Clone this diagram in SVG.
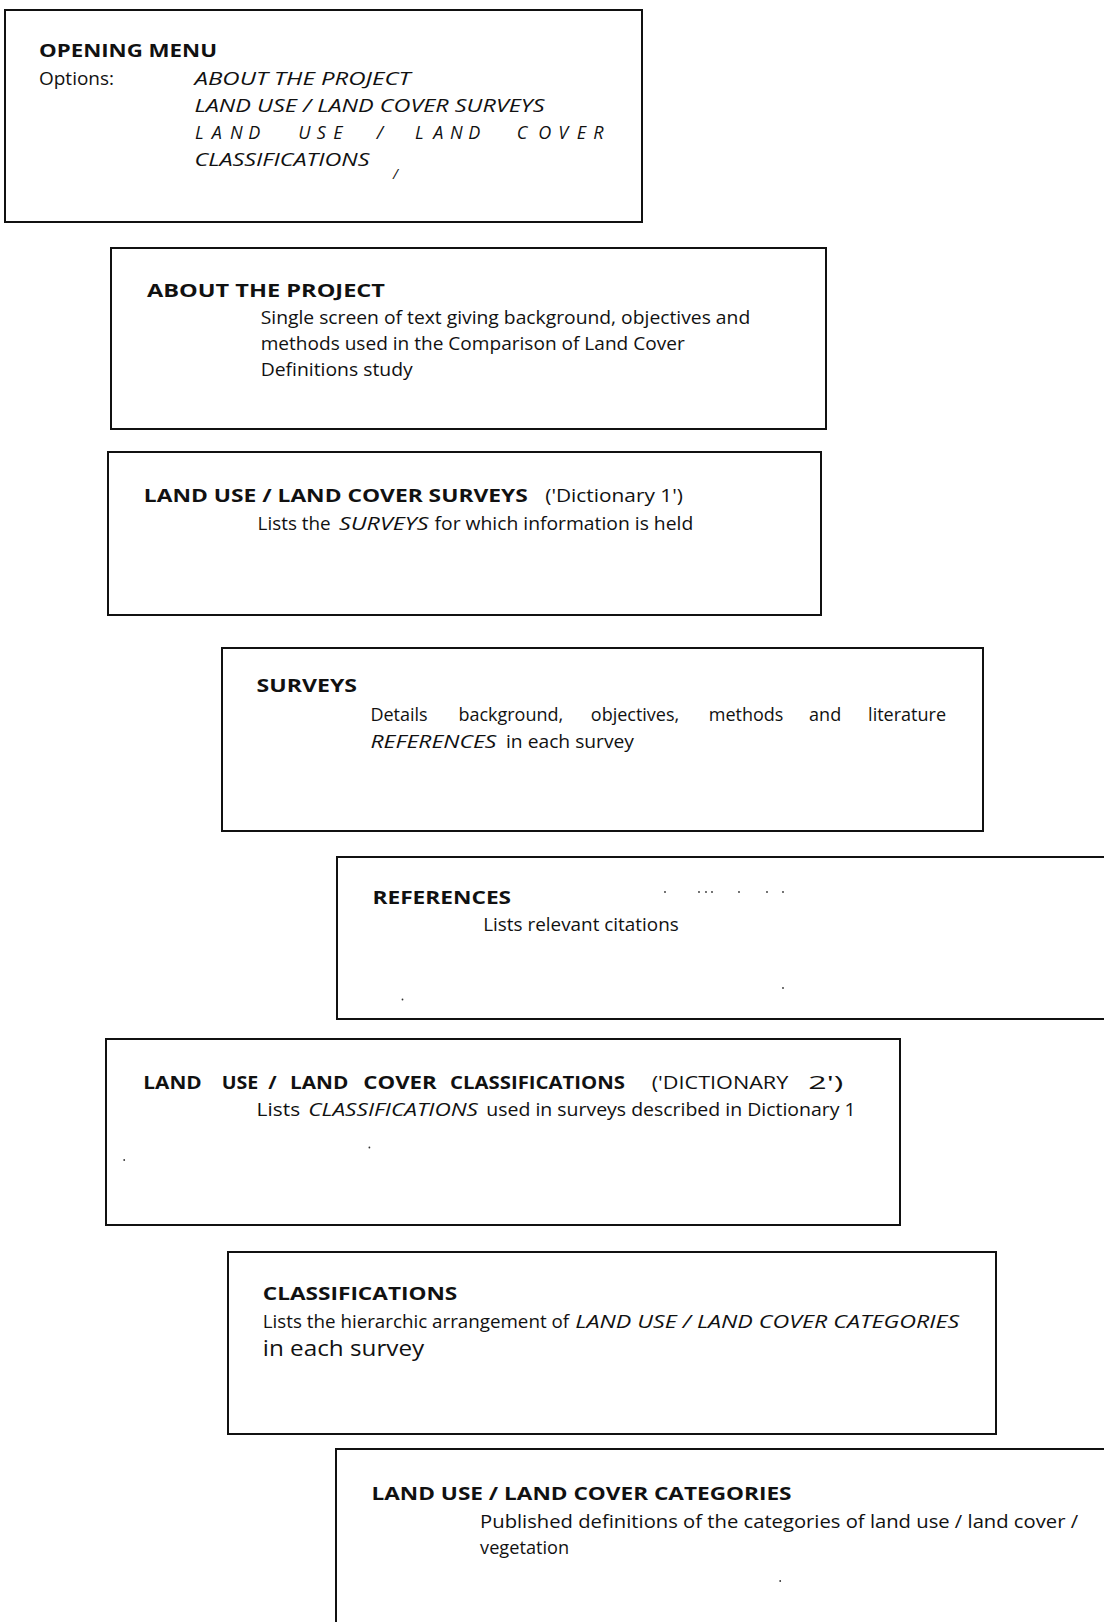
<svg xmlns="http://www.w3.org/2000/svg" width="1104" height="1622" viewBox="0 0 1104 1622">
<style>
text{font-family:"Open Sans","Liberation Sans",sans-serif;font-size:18px;fill:#111}
.t{font-weight:700}
.i{font-style:italic}
.box{fill:none;stroke:#111;stroke-width:2}
.dot{fill:#333}
</style>
<rect width="1104" height="1622" fill="#fff"/>
<g id="connectors"></g>
<g id="opening-menu">
<rect class="box" x="5" y="10" width="637" height="212"/>
<text class="t" x="39" y="57" textLength="178" lengthAdjust="spacingAndGlyphs">OPENING MENU</text>
<text x="39" y="85" textLength="75" lengthAdjust="spacingAndGlyphs">Options:</text>
<text class="i" x="194.5" y="85" textLength="216" lengthAdjust="spacingAndGlyphs">ABOUT THE PROJECT</text>
<text class="i" x="194.5" y="111.7" textLength="350" lengthAdjust="spacingAndGlyphs">LAND USE / LAND COVER SURVEYS</text>
<text class="i" x="195 211.7 230 248.3 270 298.3 316.7 333.3 350 376.7 395 415 433.3 450 468.3 490 516.7 538.3 558.3 576.7 593.3" y="138.6">LAND USE / LAND COVER</text>
<text class="i" x="194.5" y="165.5" textLength="175" lengthAdjust="spacingAndGlyphs">CLASSIFICATIONS</text>
<text class="i" x="393" y="179" style="font-size:14px">/</text>
</g>
<g id="about-the-project">
<rect class="box" x="111" y="248" width="715" height="181"/>
<text class="t" x="147" y="297" textLength="238" lengthAdjust="spacingAndGlyphs">ABOUT THE PROJECT</text>
<text x="260.7" y="323.9" textLength="489.5" lengthAdjust="spacingAndGlyphs">Single screen of text giving background, objectives and</text>
<text x="260.7" y="349.7" textLength="424" lengthAdjust="spacingAndGlyphs">methods used in the Comparison of Land Cover</text>
<text x="260.7" y="375.6" textLength="152" lengthAdjust="spacingAndGlyphs">Definitions study</text>
</g>
<g id="surveys-dictionary">
<rect class="box" x="108" y="452" width="713" height="163"/>
<text class="t" x="143.8" y="501.8" textLength="384" lengthAdjust="spacingAndGlyphs">LAND USE / LAND COVER SURVEYS</text>
<text x="545.3" y="501.8" textLength="137.6" lengthAdjust="spacingAndGlyphs">('Dictionary 1')</text>
<text x="257.6" y="529.8" textLength="73" lengthAdjust="spacingAndGlyphs">Lists the</text>
<text class="i" x="339" y="529.8" textLength="89.4" lengthAdjust="spacingAndGlyphs">SURVEYS</text>
<text x="434.6" y="529.8" textLength="258.6" lengthAdjust="spacingAndGlyphs">for which information is held</text>
</g>
<g id="surveys">
<rect class="box" x="222" y="648" width="761" height="183"/>
<text class="t" x="256.6" y="692.2" textLength="100.4" lengthAdjust="spacingAndGlyphs">SURVEYS</text>
<text y="721.2"><tspan x="370.4">Details</tspan> <tspan x="458.4">background,</tspan> <tspan x="590.8">objectives,</tspan> <tspan x="708.8">methods</tspan> <tspan x="809.1">and</tspan> <tspan x="868.1">literature</tspan></text>
<text class="i" x="370.4" y="748.1" textLength="126" lengthAdjust="spacingAndGlyphs">REFERENCES</text>
<text x="506" y="748.1" textLength="128" lengthAdjust="spacingAndGlyphs">in each survey</text>
</g>
<g id="references">
<rect class="box" x="337" y="857" width="780" height="162"/>
<text class="t" x="372.5" y="904.3" textLength="138.6" lengthAdjust="spacingAndGlyphs">REFERENCES</text>
<text x="483.2" y="931.2" textLength="195.6" lengthAdjust="spacingAndGlyphs">Lists relevant citations</text>
<circle class="dot" cx="665" cy="892" r="0.9"/>
<circle class="dot" cx="699" cy="892" r="0.9"/>
<circle class="dot" cx="706" cy="892" r="0.9"/>
<circle class="dot" cx="712" cy="892" r="0.9"/>
<circle class="dot" cx="739" cy="892" r="0.9"/>
<circle class="dot" cx="767" cy="892" r="0.9"/>
<circle class="dot" cx="783" cy="892" r="0.9"/>
<circle class="dot" cx="402.5" cy="999.5" r="0.9"/>
<circle class="dot" cx="783" cy="988" r="0.9"/>
</g>
<g id="classifications-dictionary">
<rect class="box" x="106" y="1039" width="794" height="186"/>
<text class="t" x="143.3" y="1088.5" textLength="58.4" lengthAdjust="spacingAndGlyphs">LAND</text>
<text class="t" x="221.7" y="1088.5" textLength="36.6" lengthAdjust="spacingAndGlyphs">USE</text>
<text class="t" x="268.3" y="1088.5" textLength="8.4" lengthAdjust="spacingAndGlyphs">/</text>
<text class="t" x="290" y="1088.5" textLength="58.3" lengthAdjust="spacingAndGlyphs">LAND</text>
<text class="t" x="363.3" y="1088.5" textLength="73.4" lengthAdjust="spacingAndGlyphs">COVER</text>
<text class="t" x="450" y="1088.5" textLength="175" lengthAdjust="spacingAndGlyphs">CLASSIFICATIONS</text>
<text x="651.7" y="1088.5" textLength="136.6" lengthAdjust="spacingAndGlyphs">('DICTIONARY</text>
<text x="808.3" y="1088.5" textLength="35" lengthAdjust="spacingAndGlyphs">2')</text>
<text x="256.6" y="1116.4" textLength="43.5" lengthAdjust="spacingAndGlyphs">Lists</text>
<text class="i" x="308.3" y="1116.4" textLength="169.7" lengthAdjust="spacingAndGlyphs">CLASSIFICATIONS</text>
<text x="486.3" y="1116.4" textLength="369.4" lengthAdjust="spacingAndGlyphs">used in surveys described in Dictionary 1</text>
<circle class="dot" cx="124.2" cy="1160" r="0.9"/>
<circle class="dot" cx="369.4" cy="1147.5" r="0.9"/>
</g>
<g id="classifications">
<rect class="box" x="228" y="1252" width="768" height="182"/>
<text class="t" x="262.8" y="1299.6" textLength="194.5" lengthAdjust="spacingAndGlyphs">CLASSIFICATIONS</text>
<text x="262.8" y="1327.5" textLength="306.3" lengthAdjust="spacingAndGlyphs">Lists the hierarchic arrangement of</text>
<text class="i" x="575.3" y="1327.5" textLength="383.9" lengthAdjust="spacingAndGlyphs">LAND USE / LAND COVER CATEGORIES</text>
<text x="262.8" y="1355.5" style="font-size:22px" textLength="161.4" lengthAdjust="spacingAndGlyphs">in each survey</text>
</g>
<g id="categories">
<rect class="box" x="336" y="1449" width="780" height="200"/>
<text class="t" x="371.5" y="1500.3" textLength="420" lengthAdjust="spacingAndGlyphs">LAND USE / LAND COVER CATEGORIES</text>
<text x="480.1" y="1528.3" textLength="598" lengthAdjust="spacingAndGlyphs">Published definitions of the categories of land use / land cover /</text>
<text x="480.1" y="1554.1" textLength="89" lengthAdjust="spacingAndGlyphs">vegetation</text>
<circle class="dot" cx="780.2" cy="1581" r="0.9"/>
</g>
</svg>
